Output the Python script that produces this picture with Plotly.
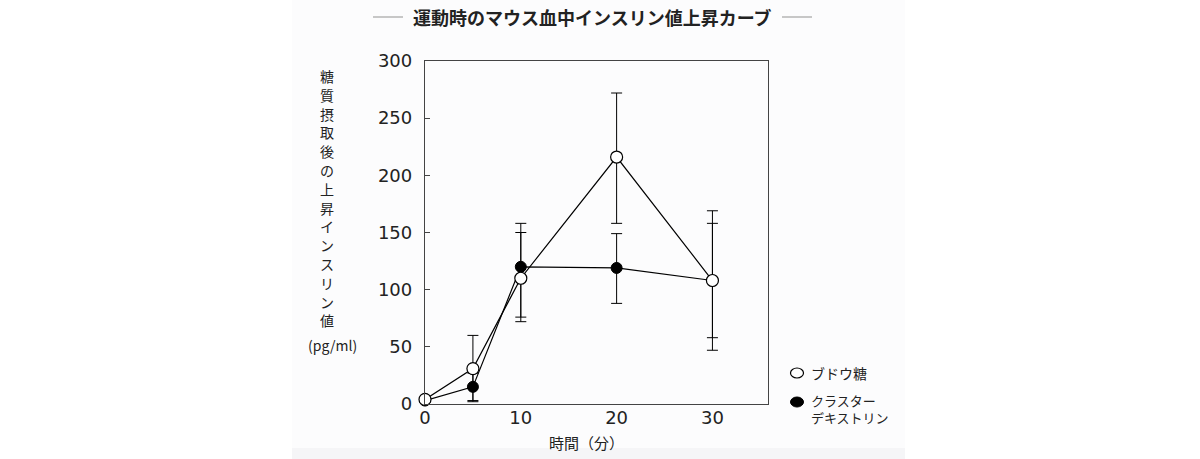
import plotly.graph_objects as go

# データ
time_min = [0, 5, 10, 20, 30]

glucose = [4, 31, 110, 216, 108]
glucose_err_plus = [0, 29, 40, 56, 61]
glucose_err_minus = [0, 29, 38, 58, 61]

dextrin = [3, 15, 120, 119, 108]
dextrin_err_plus = [0, 12, 38, 30, 50]
dextrin_err_minus = [0, 12, 44, 31, 50]

x_ticks = [0, 10, 20, 30]
y_ticks = [0, 50, 100, 150, 200, 250, 300]

title_text = "運動時のマウス血中インスリン値上昇カーブ"
y_title = "糖質摂取後の上昇インスリン値"
y_unit = "(pg/ml)"
x_title = "時間（分）"
legend_names = ["ブドウ糖", "クラスター<br>デキストリン"]

# レイアウト（ピクセル）
W, H = 1200, 459
L, R, T, B = 425, 768, 61, 404
PW, PH = R - L, B - T
JP = "Noto Sans CJK JP"
AXIS_COLOR = "#444444"
TEXT_COLOR = "#222222"


def px_x(px):
    return (px - L) / PW


def px_y(py):
    return (B - py) / PH


fig = go.Figure()

fig.add_trace(go.Scatter(
    x=time_min, y=dextrin, mode="lines+markers",
    line=dict(color="black", width=1.2),
    marker=dict(size=11, color="black", line=dict(color="black", width=1)),
    error_y=dict(type="data", symmetric=False, array=dextrin_err_plus,
                 arrayminus=dextrin_err_minus, color="black", thickness=1, width=5.5),
    cliponaxis=False, showlegend=False,
))

fig.add_trace(go.Scatter(
    x=time_min, y=glucose, mode="lines+markers",
    line=dict(color="black", width=1.2),
    marker=dict(size=12, color="white", line=dict(color="black", width=1.2)),
    error_y=dict(type="data", symmetric=False, array=glucose_err_plus,
                 arrayminus=glucose_err_minus, color="black", thickness=1, width=5.5),
    cliponaxis=False, showlegend=False,
))

shapes = [
    # うっすらグレーの背景
    dict(type="rect", xref="paper", yref="paper", layer="below",
         x0=px_x(292), x1=px_x(905), y0=px_y(0), y1=px_y(448),
         fillcolor="#fcfcfd", line=dict(width=0)),
    dict(type="rect", xref="paper", yref="paper", layer="below",
         x0=px_x(292), x1=px_x(905), y0=px_y(448), y1=px_y(459),
         fillcolor="#f5f5f7", line=dict(width=0)),
    # タイトル両側の線
    dict(type="line", xref="paper", yref="paper",
         x0=px_x(373), x1=px_x(403), y0=px_y(17), y1=px_y(17),
         line=dict(color="#aaaaaa", width=1.3)),
    dict(type="line", xref="paper", yref="paper",
         x0=px_x(782), x1=px_x(812), y0=px_y(17), y1=px_y(17),
         line=dict(color="#aaaaaa", width=1.3)),
    # 凡例の記号
    dict(type="circle", xref="paper", yref="paper",
         xsizemode="pixel", ysizemode="pixel",
         xanchor=px_x(797), yanchor=px_y(373),
         x0=-6.5, x1=6.5, y0=-5, y1=5,
         fillcolor="white", line=dict(color="black", width=1.2)),
    dict(type="circle", xref="paper", yref="paper",
         xsizemode="pixel", ysizemode="pixel",
         xanchor=px_x(797), yanchor=px_y(402),
         x0=-6.5, x1=6.5, y0=-5, y1=5,
         fillcolor="black", line=dict(color="black", width=1)),
]

annotations = [
    dict(text="<b>" + title_text + "</b>", x=px_x(592), y=px_y(17),
         font=dict(family=JP, size=18, color=TEXT_COLOR)),
    dict(text=y_unit, x=px_x(332), y=px_y(345),
         font=dict(family=JP, size=14, color=TEXT_COLOR)),
    dict(text=x_title, x=px_x(586), y=px_y(442),
         font=dict(family=JP, size=15, color=TEXT_COLOR)),
    dict(text=legend_names[0], x=px_x(809), y=px_y(373), xanchor="left",
         font=dict(family=JP, size=14, color=TEXT_COLOR)),
    dict(text=legend_names[1], x=px_x(809), y=px_y(409), xanchor="left",
         align="left", font=dict(family=JP, size=13, color=TEXT_COLOR)),
]

# 縦書きの軸タイトル
for i, ch in enumerate(y_title):
    annotations.append(dict(
        text=ch, x=px_x(327), y=px_y(76 + i * 18.8),
        font=dict(family=JP, size=14, color=TEXT_COLOR),
    ))

for a in annotations:
    a.update(xref="paper", yref="paper", showarrow=False)
    a.setdefault("xanchor", "center")
    a.setdefault("yanchor", "middle")

fig.update_layout(
    width=W, height=H,
    margin=dict(l=L, r=W - R, t=T, b=H - B, pad=0),
    paper_bgcolor="white",
    plot_bgcolor="rgba(0,0,0,0)",
    shapes=shapes,
    annotations=annotations,
    showlegend=False,
    xaxis=dict(
        range=[0, 35.8], tickvals=x_ticks, ticks="", showgrid=False,
        zeroline=False, showline=True, mirror=True,
        linecolor=AXIS_COLOR, linewidth=1.3,
        tickfont=dict(family="DejaVu Sans", size=18, color=TEXT_COLOR),
        ticklabelstandoff=-3,
    ),
    yaxis=dict(
        range=[0, 300], tickvals=y_ticks, ticks="inside", ticklen=5,
        tickcolor=AXIS_COLOR, tickwidth=1.2, showgrid=False,
        zeroline=False, showline=True, mirror=True,
        linecolor=AXIS_COLOR, linewidth=1.3,
        tickfont=dict(family="DejaVu Sans", size=18, color=TEXT_COLOR),
        ticklabelstandoff=8,
    ),
)

# ページ余白をなくして図を左上に合わせる
fig.write_html("out.html", config={"displayModeBar": False},
               post_script="document.body.style.margin='0';")
